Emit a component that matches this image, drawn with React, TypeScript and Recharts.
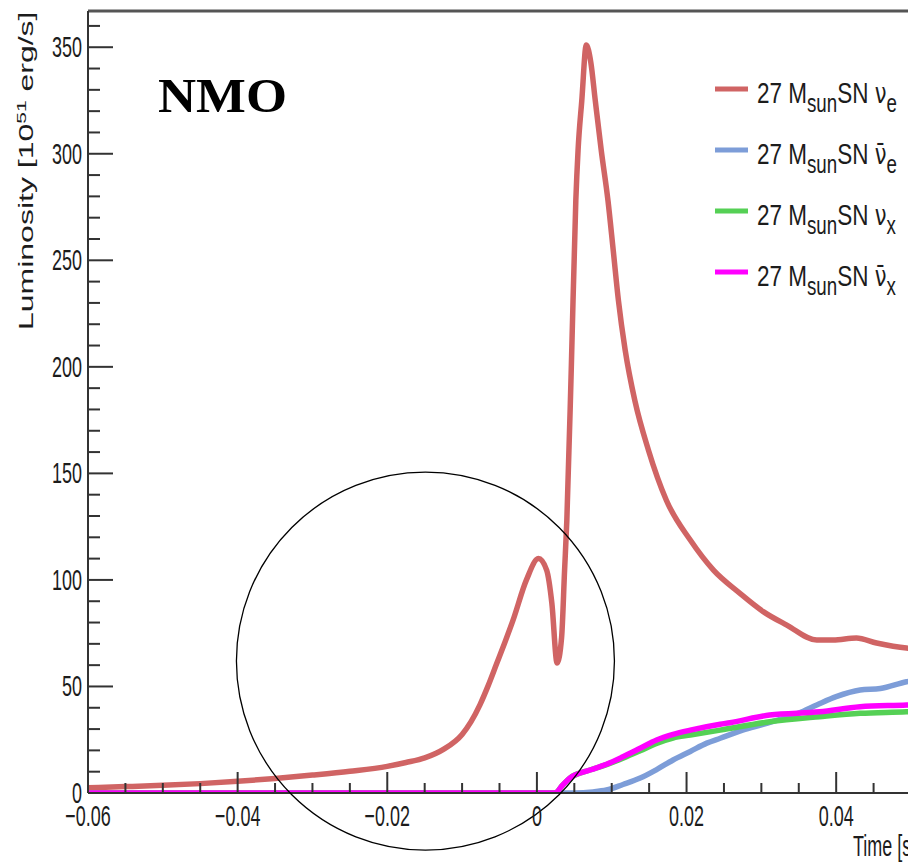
import { LineChart, Line, XAxis, YAxis, ReferenceLine, ReferenceDot } from "recharts";

// Luminosity curves of a 27 Msun supernova, time in s, luminosity in 1e51 erg/s
const nueTime = [
  -0.06, -0.055, -0.05, -0.045, -0.04, -0.035, -0.03, -0.025, -0.02, -0.0175, -0.015, -0.0125, -0.01,
  -0.0088, -0.0076, -0.0065, -0.0054, -0.0043, -0.0032, -0.0014, 0.0002, 0.0013, 0.002, 0.0027, 0.0033,
  0.0037, 0.004, 0.0046, 0.0052, 0.0055, 0.006, 0.0066, 0.0072, 0.0078, 0.0086, 0.0095, 0.0102, 0.0109,
  0.0118, 0.0131, 0.0149, 0.0173, 0.0205, 0.0236, 0.0271, 0.0303, 0.0334, 0.0374, 0.0396, 0.0427,
  0.0454, 0.0494, 0.05,
];
const nueLum = [
  2.5, 3, 3.6, 4.4, 5.5, 6.8, 8.4, 10.2, 12.5, 14.3, 16.5, 20.5, 27.5, 33.5, 41.5, 50.5, 60.5, 70.5, 81,
  100, 110, 104.6, 89, 61, 73, 104.6, 128, 200, 278, 301.6, 325, 351, 343, 325, 301.6, 278, 254.7, 231,
  207.8, 184, 161, 137.4, 118.7, 104.6, 93.8, 85, 78.8, 71.8, 71.8, 72.7, 70.4, 68, 67.8,
];

const antiNueTime = [
  -0.06, 0.005, 0.0075, 0.0093, 0.0115, 0.0138, 0.016, 0.0182, 0.0205, 0.0227, 0.0245, 0.0275, 0.03,
  0.0325, 0.035, 0.0374, 0.04, 0.0432, 0.0459, 0.0494, 0.05,
];
const antiNueLum = [
  0, 0, 0.5, 1.4, 4, 7, 11, 15.5, 19.5, 23.4, 25.7, 29.5, 32, 34.5, 37.5, 41.3, 45.2, 48.3, 49, 52.2,
  52.6,
];

const nuxTime = [
  -0.06, 0.0024, 0.0034, 0.0044, 0.0071, 0.0093, 0.0115, 0.0138, 0.016, 0.0182, 0.0205, 0.0245,
  0.0311, 0.0378, 0.0432, 0.0494, 0.05,
];
const nuxLum = [0, 0, 3.5, 7, 10.8, 13.3, 16.3, 19.8, 23.3, 25.8, 27.2, 29.5, 33.4, 35.8, 37.4, 38.1, 38.2];

const antiNuxTime = [
  -0.06, 0.0024, 0.0034, 0.0044, 0.0071, 0.0093, 0.0115, 0.0138, 0.016, 0.0182, 0.0205, 0.0245,
  0.0258, 0.0311, 0.0378, 0.0432, 0.0494, 0.05,
];
const antiNuxLum = [
  0, 0, 3.5, 7, 10.8, 13.5, 17, 21, 24.9, 27.5, 29.5, 32.3, 33, 36.6, 38.1, 40.5, 41.3, 41.4,
];

// axis ticks
const xMajorTicks = [-0.06, -0.04, -0.02, 0, 0.02, 0.04];
const xMajorLabels = ["\u22120.06", "\u22120.04", "\u22120.02", "0", "0.02", "0.04"];
const yMajorTicks = [0, 50, 100, 150, 200, 250, 300, 350];
const yMajorLabels = ["0", "50", "100", "150", "200", "250", "300", "350"];

const X_MIN = -0.06;
const X_MAX = 0.05;
const Y_MAX = 367;

const xTicks: number[] = [];
for (let i = 0; i <= 22; i++) xTicks.push(Math.round((X_MIN + i * 0.005) * 1e6) / 1e6);
const yTicks: number[] = [];
for (let v = 0; v <= 360; v += 10) yTicks.push(v);

// highlighted region around the neutronization burst
const circleCenter = { t: -0.0149, lum: 61.9 };
const circleRadius = 189;

const zip = (time: number[], lum: number[]) => time.map((t, i) => ({ t, v: lum[i] }));

const series = [
  { key: "nue", flavour: "e", bar: false, color: "#d06464", data: zip(nueTime, nueLum) },
  { key: "antinue", flavour: "e", bar: true, color: "#7d9dd8", data: zip(antiNueTime, antiNueLum) },
  { key: "nux", flavour: "x", bar: false, color: "#55d055", data: zip(nuxTime, nuxLum) },
  { key: "antinux", flavour: "x", bar: true, color: "#ff00ff", data: zip(antiNuxTime, antiNuxLum) },
];

const SQUEEZE = 0.62;
const AXIS_COLOR = "#333";
const TEXT_COLOR = "#1c1c1c";
const FONT = "'Liberation Sans', Arial, sans-serif";

const findMajor = (list: number[], value: number) =>
  list.findIndex((v) => Math.abs(v - value) < 1e-9);

const XTick = (props: any) => {
  const { x, y, payload } = props;
  const idx = findMajor(xMajorTicks, payload.value);
  const len = idx >= 0 ? 21 : 10;
  return (
    <g>
      <line x1={x} x2={x} y1={y} y2={y - len} stroke={AXIS_COLOR} strokeWidth={2} />
      {idx >= 0 && (
        <text
          transform={`translate(${x},${y + 33}) scale(${SQUEEZE},1)`}
          textAnchor="middle"
          fontSize={29}
          fontFamily={FONT}
          fill={TEXT_COLOR}
        >
          {xMajorLabels[idx]}
        </text>
      )}
    </g>
  );
};

const YTick = (props: any) => {
  const { x, y, payload } = props;
  const idx = findMajor(yMajorTicks, payload.value);
  const len = idx >= 0 ? 25 : 12;
  return (
    <g>
      <line x1={x} x2={x + len} y1={y} y2={y} stroke={AXIS_COLOR} strokeWidth={2} />
      {idx >= 0 && (
        <text
          transform={`translate(${x - 6},${y + 10}) scale(${SQUEEZE},1)`}
          textAnchor="end"
          fontSize={29}
          fontFamily={FONT}
          fill={TEXT_COLOR}
        >
          {yMajorLabels[idx]}
        </text>
      )}
    </g>
  );
};

const Overlay = () => (
  <svg
    width={908}
    height={862}
    style={{ position: "absolute", left: 0, top: 0, pointerEvents: "none" }}
  >
    {/* y axis title */}
    <text
      transform={`translate(33,330) scale(${SQUEEZE},1) rotate(-90)`}
      fontSize={32}
      fontFamily={FONT}
      fill={TEXT_COLOR}
    >
      Luminosity [10
      <tspan fontSize={21} dy={-12}>51</tspan>
      <tspan dy={12}> erg/s]</tspan>
    </text>
    {/* x axis title */}
    <text
      transform={`translate(853,856) scale(${SQUEEZE},1)`}
      fontSize={29}
      fontFamily={FONT}
      fill={TEXT_COLOR}
    >
      Time [s]
    </text>
    <text
      x={158}
      y={112}
      fontSize={49}
      fontWeight="bold"
      fontFamily="'Liberation Serif', 'Times New Roman', serif"
      textLength={129}
      lengthAdjust="spacingAndGlyphs"
      fill="#000"
    >
      NMO
    </text>
    {series.map((s, i) => {
      const rowY = 89 + i * 61;
      return (
        <g key={s.key}>
          <line x1={715} x2={748} y1={rowY} y2={rowY} stroke={s.color} strokeWidth={5} />
          <text
            transform={`translate(757,${rowY + 14}) scale(0.75,1)`}
            fontSize={30}
            fontFamily={FONT}
            fill={TEXT_COLOR}
          >
            27 M
            <tspan fontSize={25} dy={9}>sun</tspan>
            <tspan dy={-9}>SN </tspan>
            <tspan fontFamily="'DejaVu Sans', sans-serif" fontSize={28}>
              {s.bar ? "\u03bd\u0304" : "\u03bd"}
            </tspan>
            <tspan fontSize={25} dy={9}>{s.flavour}</tspan>
          </text>
        </g>
      );
    })}
  </svg>
);

export default function App() {
  return (
    <div
      style={{
        position: "absolute",
        left: 0,
        top: 0,
        width: 908,
        height: 862,
        overflow: "hidden",
        background: "#fff",
      }}
    >
      <LineChart width={930} height={862} margin={{ top: 11, right: 19, left: 0, bottom: 0 }}>
        <XAxis
          type="number"
          dataKey="t"
          domain={[X_MIN, X_MAX]}
          ticks={xTicks}
          interval={0}
          tickSize={0}
          tickMargin={0}
          tick={<XTick />}
          axisLine={{ stroke: AXIS_COLOR, strokeWidth: 2 }}
          height={69}
          allowDataOverflow
        />
        <YAxis
          type="number"
          dataKey="v"
          domain={[0, Y_MAX]}
          ticks={yTicks}
          interval={0}
          tickSize={0}
          tickMargin={0}
          tick={<YTick />}
          axisLine={{ stroke: AXIS_COLOR, strokeWidth: 2 }}
          width={88}
          allowDataOverflow
        />
        <ReferenceLine y={Y_MAX} stroke="#555" strokeWidth={3} />
        {series.map((s) => (
          <Line
            key={s.key}
            data={s.data}
            dataKey="v"
            type="monotone"
            stroke={s.color}
            strokeWidth={5.5}
            dot={false}
            isAnimationActive={false}
          />
        ))}
        <ReferenceDot
          x={circleCenter.t}
          y={circleCenter.lum}
          r={circleRadius}
          fill="none"
          stroke="#000"
          strokeWidth={1.3}
          ifOverflow="visible"
        />
      </LineChart>
      <Overlay />
    </div>
  );
}
